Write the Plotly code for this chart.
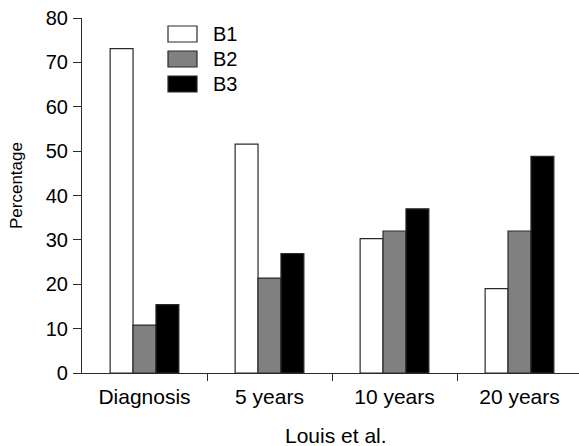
import plotly.graph_objects as go

categories = ["Diagnosis", "5 years", "10 years", "20 years"]
series_names = ["B1", "B2", "B3"]
b1_values = [73.1, 51.6, 30.3, 19.0]
b2_values = [10.8, 21.4, 32.0, 32.0]
b3_values = [15.4, 26.9, 37.0, 48.8]
series_colors = ["#ffffff", "#808080", "#000000"]
y_ticks = [0, 10, 20, 30, 40, 50, 60, 70, 80]
x_title = "Louis et al."
y_title = "Percentage"

W, H = 579, 446
ML, MR, MT, MB = 82, 0, 18, 73
FONT = "Liberation Sans, Arial, Helvetica, sans-serif"
LINE = "#2a2a2a"

def px_x(p):
    return (p - ML) / (W - ML - MR)

def px_y(p):
    return 1 - (p - MT) / (H - MT - MB)

xpos = list(range(len(categories)))
fig = go.Figure()
for name, vals, col in zip(series_names, [b1_values, b2_values, b3_values], series_colors):
    fig.add_trace(go.Bar(
        x=xpos, y=vals, name=name,
        marker=dict(color=col, line=dict(color=LINE, width=1.2)),
        showlegend=False,
    ))

# custom legend (large boxes like the reference)
shapes = []
annotations = []
for i, (name, col) in enumerate(zip(series_names, series_colors)):
    top = 26 + i * 25
    shapes.append(dict(type="rect", xref="paper", yref="paper",
                       x0=px_x(168), x1=px_x(197), y0=px_y(top + 16), y1=px_y(top),
                       fillcolor=col, line=dict(color=LINE, width=1.2)))
    annotations.append(dict(text=name, xref="paper", yref="paper",
                            x=px_x(211), y=px_y(top + 8), xanchor="left", yanchor="middle",
                            showarrow=False, font=dict(size=20, color="black", family=FONT)))

annotations.append(dict(text=x_title, xref="paper", yref="paper",
                        x=px_x(336), y=px_y(435), xanchor="center", yanchor="middle",
                        showarrow=False, font=dict(size=21, color="black", family=FONT)))
annotations.append(dict(text=y_title, xref="paper", yref="paper",
                        x=px_x(16), y=px_y(186), xanchor="center", yanchor="middle",
                        textangle=-90, showarrow=False,
                        font=dict(size=17, color="black", family=FONT)))

span = (W - ML - MR) / 125.0
fig.update_layout(
    width=W, height=H,
    margin=dict(l=ML, r=MR, t=MT, b=MB, pad=0),
    paper_bgcolor="white", plot_bgcolor="white",
    barmode="group", bargap=0.45, bargroupgap=0,
    font=dict(family=FONT, size=20, color="black"),
    shapes=shapes, annotations=annotations,
    xaxis=dict(
        type="linear", range=[-0.5, -0.5 + span], autorange=False,
        tickmode="array", tickvals=xpos, ticktext=categories,
        ticks="", showgrid=False, zeroline=False,
        showline=True, linecolor=LINE, linewidth=1.2,
        tickfont=dict(size=21, color="black", family=FONT),
        minor=dict(tickmode="array", tickvals=[0.5, 1.5, 2.5], ticks="outside",
                   ticklen=7, tickwidth=1.2, tickcolor=LINE, showgrid=False),
        ticklabelstandoff=5,
    ),
    yaxis=dict(
        range=[0, 80], autorange=False,
        tickmode="array", tickvals=y_ticks,
        ticks="outside", ticklen=8, tickwidth=1.2, tickcolor=LINE,
        showgrid=False, zeroline=False,
        showline=True, linecolor=LINE, linewidth=1.2,
        tickfont=dict(size=20, color="black", family=FONT),
        ticklabelstandoff=1,
    ),
)

fig.write_html("out.html", config={"displayModeBar": False},
               post_script="document.body.style.margin='0';document.body.style.overflow='hidden';")
